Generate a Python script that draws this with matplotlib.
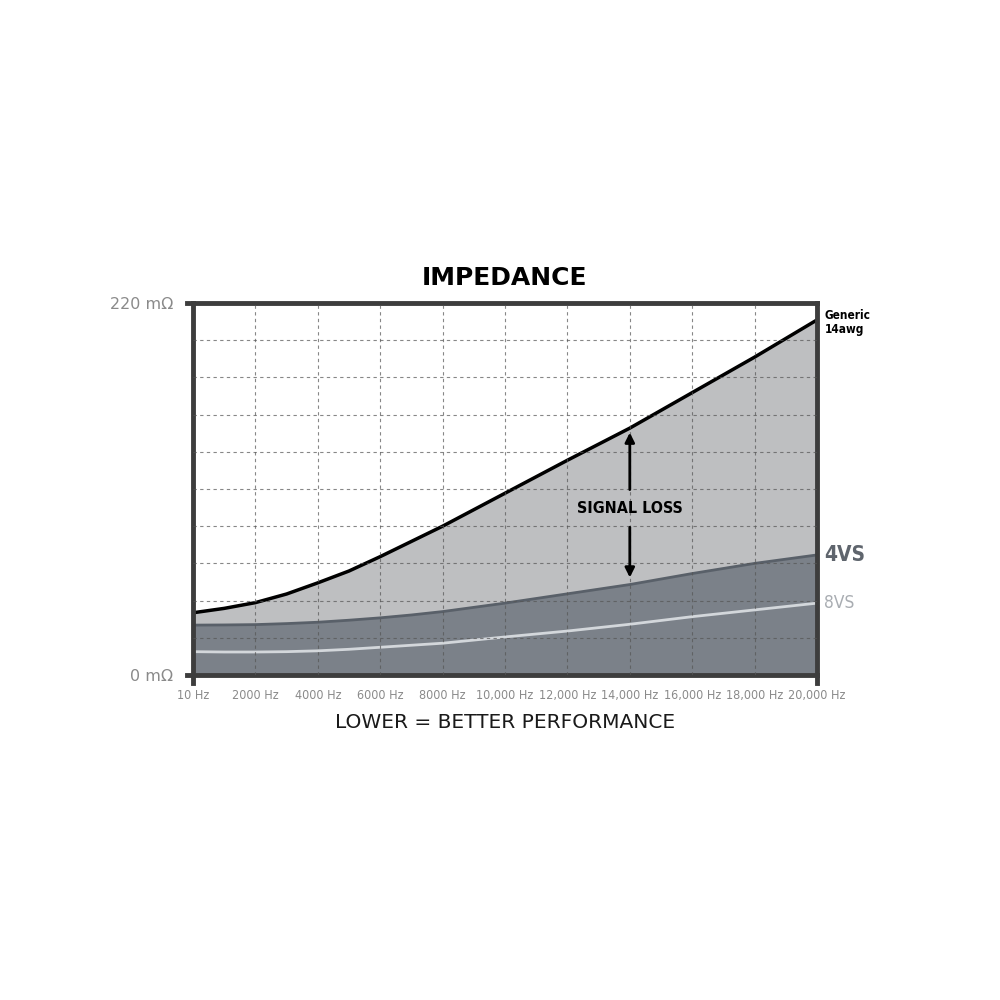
import matplotlib.pyplot as plt

# data (mOhm vs Hz)
freq = [0, 1000, 2000, 3000, 4000, 5000, 6000, 7000, 8000, 10000,
        12000, 14000, 16000, 18000, 20000]
generic_14awg = [36.8, 39.4, 42.8, 47.9, 54.5, 61.5, 70.0, 79.0, 88.0, 107.5,
                 127.0, 146.0, 167.0, 188.0, 210.0]
vs4 = [29.5, 29.6, 29.8, 30.4, 31.2, 32.4, 33.8, 35.5, 37.5, 42.5,
       48.0, 53.5, 60.0, 66.0, 71.0]
vs8 = [13.8, 13.6, 13.6, 13.8, 14.3, 15.2, 16.4, 17.6, 18.8, 22.5,
       26.0, 30.0, 34.5, 38.5, 42.5]

x_ticks = [0, 2000, 4000, 6000, 8000, 10000, 12000, 14000, 16000, 18000, 20000]
x_labels = ['10 Hz', '2000 Hz', '4000 Hz', '6000 Hz', '8000 Hz', '10,000 Hz',
            '12,000 Hz', '14,000 Hz', '16,000 Hz', '18,000 Hz', '20,000 Hz']
y_ticks = [0, 220]
y_labels = ['0 mΩ', '220 mΩ']

cond = dict(family='DejaVu Sans', stretch='condensed')

fig = plt.figure(figsize=(10, 10), dpi=100)
ax = fig.add_axes([0.193, 0.325, 0.624, 0.372])

ax.fill_between(freq, vs4, generic_14awg, color='#bebfc1', lw=0)
ax.fill_between(freq, 0, vs4, color='#7b8189', lw=0)
ax.plot(freq, generic_14awg, color='black', lw=2.5)
ax.plot(freq, vs4, color='#596069', lw=2)
ax.plot(freq, vs8, color='#d3d7db', lw=2)

ax.set_xlim(0, 20000)
ax.set_ylim(0, 220)

# dashed grid on top of the fills
for gx in range(2000, 20000, 2000):
    ax.axvline(gx, color='#555555', lw=0.8, ls=(0, (3, 3)), alpha=0.7, zorder=3)
for gy in range(22, 220, 22):
    ax.axhline(gy, color='#555555', lw=0.8, ls=(0, (3, 3)), alpha=0.7, zorder=3)

for s in ax.spines.values():
    s.set_color('#3d3d3d')
    s.set_linewidth(3.5)

ax.set_xticks(x_ticks)
ax.set_xticklabels(x_labels, fontsize=9, color='#8a8a8a', **cond)
ax.set_yticks(y_ticks)
ax.set_yticklabels(y_labels, fontsize=11.5, color='#8a8a8a')
ax.tick_params(axis='x', length=0, pad=10)
ax.tick_params(axis='y', length=0, pad=14)
# only the end ticks are drawn
ax.plot([0, 0], [0, -5], color='#3d3d3d', lw=3.5, clip_on=False)
ax.plot([20000, 20000], [0, -5], color='#3d3d3d', lw=3.5, clip_on=False)
ax.plot([0, -200], [0, 0], color='#3d3d3d', lw=3.5, clip_on=False)
ax.plot([0, -200], [220, 220], color='#3d3d3d', lw=3.5, clip_on=False)

# signal loss arrow
ax.annotate('', xy=(14000, 145), xytext=(14000, 108),
            arrowprops=dict(arrowstyle='-|>', color='black', lw=2, mutation_scale=14))
ax.annotate('', xy=(14000, 56), xytext=(14000, 89),
            arrowprops=dict(arrowstyle='-|>', color='black', lw=2, mutation_scale=14))
ax.text(14000, 98.5, 'SIGNAL LOSS', ha='center', va='center', fontsize=11.5,
        fontweight='bold', color='black', **cond)

# series labels on the right
ax.text(1.012, 0.985, 'Generic\n14awg', transform=ax.transAxes, ha='left', va='top',
        fontsize=8.5, fontweight='bold', color='black', linespacing=1.15, **cond)
ax.text(1.012, 71 / 220, '4VS', transform=ax.transAxes, ha='left', va='center',
        fontsize=15, fontweight='bold', color='#5f656d', **cond)
ax.text(1.012, 42.5 / 220, '8VS', transform=ax.transAxes, ha='left', va='center',
        fontsize=12.5, color='#a9adb2', **cond)

fig.text(0.505, 0.722, 'IMPEDANCE', ha='center', va='center', fontsize=18,
         fontweight='bold', color='black')
fig.text(0.505, 0.277, 'LOWER = BETTER PERFORMANCE', ha='center', va='center',
         fontsize=14.5, color='#1a1a1a')

fig.savefig('out.png', dpi=100, facecolor='white')
